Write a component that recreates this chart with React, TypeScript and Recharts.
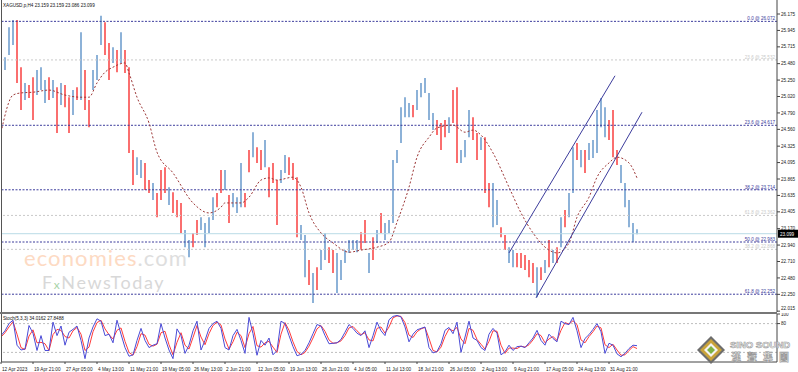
import React from "react";
import { Bar, Cell, ComposedChart, Line, ReferenceLine, XAxis, YAxis } from "recharts";

// XAGUSD H4, one sample every ~4 chart bars (index i)
const highs = [
  25.57, 25.57, 25.99, 26.09, 26.09, 25.43, 25.21, 25.18, 25.29, 25.39,
  25.43, 25.25, 25.29, 25.25, 25.15, 25.21, 25.18, 25.01, 25.11, 25.15,
  25.92, 25.39, 24.97, 25.39, 25.6, 26.15, 26.06, 25.77, 25.71, 25.67,
  25.92, 25.67, 25.43, 24.27, 24.17, 24.13, 24.09, 23.85, 23.81, 23.67,
  23.99, 24.03, 23.75, 23.68, 23.57, 23.53, 23.15, 23.01, 23.11, 23.29,
  23.33, 23.25, 23.33, 23.61, 23.67, 23.99, 23.99, 23.64, 23.67, 23.61,
  24.09, 23.67, 24.27, 24.52, 24.31, 24.27, 24.41, 24.03, 24.09, 23.85,
  23.99, 24.2, 24.17, 24.09, 23.89, 23.22, 23.08, 22.73, 22.55, 22.63,
  22.87, 23.11, 22.91, 22.87, 22.83, 22.73, 22.87, 23.01, 23.01, 23.01,
  23.12, 23.29, 22.83, 23.05, 23.15, 23.39, 23.25, 23.29, 24.13, 24.27,
  24.87, 25.01, 24.93, 24.9, 25.11, 25.21, 25.28, 25.07, 24.79, 24.69,
  24.65, 24.69, 24.73, 25.11, 25.15, 24.27, 24.41, 24.83, 24.73, 24.51,
  24.45, 24.45, 23.81, 23.81, 23.57, 23.19, 23.08, 22.91, 22.87, 22.83,
  22.83, 22.8, 22.73, 22.69, 22.63, 22.63, 22.73, 23.01, 22.87, 22.91,
  23.33, 23.43, 23.67, 24.31, 24.37, 24.27, 24.27, 24.37, 24.41, 24.83,
  25.0, 24.87, 24.69, 24.83, 24.27, 24.06, 23.81, 23.57, 23.25, 23.16,
];
const lows = [
  25.32, 25.39, 25.6, 25.74, 25.21, 24.83, 24.97, 25.0, 24.69, 25.04,
  25.11, 24.93, 24.97, 25.0, 24.51, 24.9, 24.87, 24.51, 24.76, 24.97,
  24.97, 24.83, 24.59, 25.11, 25.25, 25.74, 25.6, 25.25, 25.49, 25.36,
  25.49, 25.35, 24.23, 23.78, 23.92, 23.88, 23.71, 23.67, 23.57, 23.33,
  23.57, 23.67, 23.5, 23.39, 23.33, 23.11, 22.91, 22.77, 22.91, 23.08,
  23.15, 22.91, 23.11, 23.29, 23.47, 23.67, 23.71, 23.25, 23.47, 23.39,
  23.47, 23.47, 23.96, 24.17, 24.09, 23.99, 24.03, 23.61, 23.81, 23.22,
  23.81, 23.95, 23.92, 23.85, 23.05, 23.01, 22.49, 22.38, 22.13, 22.31,
  22.59, 22.73, 22.69, 22.55, 22.27, 22.45, 22.69, 22.83, 22.87, 22.84,
  22.87, 22.97, 22.55, 22.73, 22.97, 23.11, 23.01, 23.11, 23.25, 24.09,
  24.37, 24.73, 24.73, 24.73, 24.83, 25.01, 25.07, 24.69, 24.55, 24.48,
  24.27, 24.45, 24.51, 24.65, 24.09, 24.09, 24.17, 24.45, 24.41, 24.13,
  24.27, 23.67, 23.47, 23.19, 23.22, 23.05, 22.87, 22.69, 22.63, 22.63,
  22.62, 22.59, 22.49, 22.41, 22.21, 22.45, 22.55, 22.63, 22.69, 22.69,
  22.91, 23.19, 23.33, 23.67, 24.13, 24.03, 23.95, 24.13, 24.16, 24.23,
  24.59, 24.45, 24.41, 24.17, 24.06, 23.81, 23.47, 23.19, 22.98, 23.09,
];
// u = bull bar, d = bear bar
const dirs =
  "uuuuddudduuudud" +
  "uddudud" +
  "duuuddudud" +
  "dduudduddduddduudduuuuddudu" +
  "uuddudduddduuddduudu" +
  "duudduuuuuuddud" +
  "uduuuuuuuduuuuudddudduuu" +
  "ddudduudduuddddd" +
  "ududududuududu" +
  "uuuuddduuuuuddddddud";

const maIdx = [0, 3, 5, 8, 12, 16, 20, 22, 24, 26, 28, 31, 32, 34, 37, 39, 43, 48, 52, 55, 56, 60, 62, 65, 67, 69, 73, 75, 77, 80, 83, 87, 90, 94, 97, 99, 102, 104, 107, 109, 113, 116, 118, 120, 123, 127, 130, 133, 137, 139, 142, 144, 147, 149, 152, 154, 157, 159];
const maVal = [24.52, 25.04, 25.07, 25.08, 25.11, 25.04, 25.01, 25.01, 25.21, 25.36, 25.43, 25.49, 25.35, 25.01, 24.65, 24.24, 23.95, 23.53, 23.39, 23.47, 23.53, 23.53, 23.61, 23.85, 23.88, 23.85, 23.89, 23.75, 23.39, 23.11, 22.97, 22.84, 22.87, 22.91, 22.98, 23.26, 23.75, 24.17, 24.45, 24.58, 24.62, 24.52, 24.55, 24.48, 24.23, 23.75, 23.39, 23.11, 22.87, 22.83, 22.97, 23.33, 23.61, 23.89, 24.09, 24.17, 24.09, 23.88];

const stochK = [
  55, 65, 80, 87, 35, 25, 27, 76, 60, 24, 55, 24, 24, 83, 55, 75, 35, 62, 68, 75,
  45, 7, 50, 73, 90, 85, 55, 58, 40, 87, 58, 30, 12, 15, 45, 70, 45, 30, 35, 38,
  80, 50, 25, 7, 69, 55, 18, 35, 65, 85, 25, 45, 70, 80, 85, 70, 30, 25, 55, 68,
  45, 18, 93, 59, 14, 45, 35, 50, 15, 24, 85, 80, 55, 32, 13, 16, 24, 40, 59, 78,
  75, 55, 38, 39, 40, 47, 62, 78, 70, 60, 55, 65, 30, 55, 83, 65, 55, 88, 95, 97,
  94, 73, 42, 58, 67, 70, 73, 30, 19, 22, 38, 66, 72, 59, 83, 20, 52, 85, 50, 45,
  30, 24, 58, 70, 60, 15, 21, 35, 24, 32, 33, 30, 40, 50, 66, 45, 35, 58, 49, 42,
  85, 80, 78, 93, 65, 30, 49, 57, 68, 80, 63, 18, 39, 35, 17, 11, 18, 28, 35, 34,
];
const stochD = [
  52, 61, 73, 84, 58, 30, 26, 54, 67, 40, 41, 38, 24, 57, 68, 66, 53, 50, 65, 72,
  58, 24, 31, 63, 82, 87, 69, 57, 48, 66, 71, 43, 20, 14, 32, 59, 56, 37, 33, 37,
  61, 64, 36, 15, 41, 61, 35, 27, 51, 76, 52, 36, 59, 76, 83, 77, 48, 27, 42, 62,
  55, 30, 59, 74, 34, 31, 40, 43, 31, 20, 58, 82, 66, 42, 22, 15, 20, 33, 50, 69,
  76, 64, 46, 39, 40, 44, 55, 71, 74, 65, 57, 61, 46, 44, 70, 73, 60, 73, 92, 96,
  95, 82, 56, 51, 63, 69, 72, 49, 24, 21, 31, 53, 69, 65, 72, 48, 38, 70, 66, 47,
  37, 27, 43, 65, 64, 35, 18, 29, 29, 28, 33, 31, 36, 46, 59, 55, 40, 48, 53, 45,
  66, 82, 79, 86, 78, 46, 40, 53, 63, 75, 71, 36, 30, 37, 25, 14, 15, 24, 32, 28,
];

const priceTicks = [26.175, 25.945, 25.715, 25.48, 25.25, 25.02, 24.79, 24.56, 24.325, 24.095, 23.865, 23.635, 23.405, 23.17, 22.94, 22.71, 22.48, 22.25, 22.015];
const timeTickIdx = [0, 8, 16, 24, 32, 40, 48, 56, 64, 72, 80, 88, 96, 104, 112, 120, 128, 136, 144, 152];
const timeLabels = ["12 Apr 2023", "19 Apr 21:00", "27 Apr 05:00", "4 May 13:00", "11 May 21:00", "19 May 05:00", "26 May 13:00", "2 Jun 21:00", "12 Jun 05:00", "19 Jun 13:00", "26 Jun 21:00", "4 Jul 05:00", "11 Jul 13:00", "18 Jul 21:00", "26 Jul 05:00", "2 Aug 13:00", "9 Aug 21:00", "17 Aug 05:00", "24 Aug 13:00", "31 Aug 21:00"];

// fibonacci retracements: main set and faint older set
const fibMain = [
  { v: 26.072, t: "0.0 @ 26.072" },
  { v: 24.617, t: "23.6 @ 24.617" },
  { v: 23.714, t: "38.2 @ 23.714" },
  { v: 22.983, t: "50.0 @ 22.983" },
  { v: 22.252, t: "61.8 @ 22.252" },
];
const fibFaint = [
  { v: 25.532, t: "23.6 @ 25.532" },
  { v: 23.355, t: "61.8 @ 23.362" },
  { v: 22.88, t: "38.2 @ 22.868" },
];
// channel lines [i, price]
const channelUpper = [[127, 22.83], [153.5, 25.31]];
const channelLower = [[133.75, 22.2], [160.25, 24.8]];
const lastPrice = 23.099;

const UP = "#8db2d8";
const DOWN = "#fa6f6f";
const NAVY = "#3c3c9c";
const FONT = "'Liberation Sans', Arial, sans-serif";

function FibLabel({ viewBox, text, color }: any) {
  if (!viewBox) return null;
  return (
    <text x={viewBox.x + viewBox.width - 2} y={viewBox.y - 1} textAnchor="end" fontSize={4.6} fill={color} fontFamily={FONT}>
      {text}
    </text>
  );
}

function PriceTag({ viewBox }: any) {
  if (!viewBox) return null;
  const x = viewBox.x + viewBox.width + 1;
  return (
    <g>
      <rect x={x} y={viewBox.y - 4} width={20} height={8} fill="#000" />
      <text x={x + 2} y={viewBox.y + 1.8} fontSize={4.6} fill="#fff" fontFamily={FONT}>
        {lastPrice.toFixed(3)}
      </text>
    </g>
  );
}

function PriceTick({ x, y, payload }: any) {
  return (
    <text x={x} y={Math.min(y, 308.5) + 1.6} fontSize={4.6} fill="#222" fontFamily={FONT}>
      {Number(payload.value).toFixed(3)}
    </text>
  );
}

function TimeTick({ x, y, payload }: any) {
  const k = timeTickIdx.indexOf(payload.value);
  return (
    <text x={x + 1} y={y + 5} fontSize={4.7} fill="#222" textAnchor="start" fontFamily={FONT}>
      {timeLabels[k]}
    </text>
  );
}

export default function App() {
  const rows: any[] = highs.map((h, i) => ({
    i,
    range: [lows[i], h],
    up: dirs[i] === "u",
    ma: null,
    k: stochK[i],
    d: stochD[i],
  }));
  maIdx.forEach((ix, n) => {
    rows[ix].ma = maVal[n];
  });

  const axisTick = { fontSize: 4.6, fill: "#222", fontFamily: FONT };

  return (
    <div style={{ position: "absolute", left: 0, top: 0, width: 798, height: 372, background: "#fff", overflow: "hidden", fontFamily: FONT }}>
      {/* watermark */}
      <svg width={798} height={372} style={{ position: "absolute", left: 0, top: 0 }}>
        <text x={24} y={266} fontSize={22} letterSpacing={1.1} fill="#fddac3" fontFamily="Lato, sans-serif">
          economies<tspan fill="#dedede">.com</tspan>
        </text>
        <text x={42} y={289} fontSize={18} letterSpacing={1.6} fill="#d8d8d8" fontFamily="Lato, sans-serif">
          F<tspan fill="#a8d3a8" fontSize={12}>x</tspan>NewsToday
        </text>
      </svg>

      <div style={{ position: "absolute", left: 0, top: 0 }}>
        <ComposedChart width={798} height={312} data={rows} margin={{ top: 0, right: 0, bottom: 0, left: 1 }}>
          <XAxis dataKey="i" type="number" domain={[0, 194]} hide allowDataOverflow />
          <YAxis
            orientation="right"
            width={21}
            type="number"
            domain={[22.003, 26.371]}
            allowDataOverflow
            ticks={priceTicks}
            interval={0}
            tick={<PriceTick />}
            tickSize={3}
            tickMargin={1}
            stroke="#444"
          />
          {fibFaint.map((f) => (
            <ReferenceLine key={f.t} y={f.v} stroke="#c9c9c9" strokeDasharray="2 2" label={<FibLabel text={f.t} color="#c9c9c9" />} />
          ))}
          {fibMain.map((f) => (
            <ReferenceLine key={f.t} y={f.v} stroke={NAVY} strokeDasharray="2 1.5" label={<FibLabel text={f.t} color={NAVY} />} />
          ))}
          <ReferenceLine y={lastPrice} stroke="#b9dbe6" label={<PriceTag />} />
          <Bar dataKey="range" barSize={2} isAnimationActive={false}>
            {rows.map((r) => (
              <Cell key={r.i} fill={r.up ? UP : DOWN} />
            ))}
          </Bar>
          <Line dataKey="ma" type="monotone" stroke="#9c3636" strokeWidth={1} strokeDasharray="2 2" dot={false} connectNulls isAnimationActive={false} />
          <ReferenceLine segment={channelUpper.map(([x, y]) => ({ x, y }))} stroke={NAVY} ifOverflow="visible" />
          <ReferenceLine segment={channelLower.map(([x, y]) => ({ x, y }))} stroke={NAVY} ifOverflow="visible" />
        </ComposedChart>
      </div>

      <div style={{ position: "absolute", left: 0, top: 313 }}>
        <ComposedChart width={798} height={59} data={rows} margin={{ top: 1, right: 0, bottom: 0, left: 1 }}>
          <XAxis
            dataKey="i"
            type="number"
            domain={[0, 194]}
            allowDataOverflow
            ticks={timeTickIdx}
            interval={0}
            height={10}
            tick={<TimeTick />}
            tickSize={2}
            stroke="#444"
          />
          <YAxis
            orientation="right"
            width={21}
            type="number"
            domain={[0, 100]}
            ticks={[100, 80]}
            interval={0}
            tick={axisTick}
            tickSize={3}
            tickMargin={1}
            stroke="#444"
          />
          <ReferenceLine y={80} stroke="#bdbdbd" strokeDasharray="2 2" />
          <ReferenceLine y={20} stroke="#bdbdbd" strokeDasharray="2 2" />
          <Line dataKey="d" type="linear" stroke="#ff3b3b" strokeWidth={1} dot={false} isAnimationActive={false} />
          <Line dataKey="k" type="linear" stroke="#4b4bd6" strokeWidth={1} dot={false} isAnimationActive={false} />
        </ComposedChart>
      </div>

      {/* frame, titles, logo */}
      <svg width={798} height={372} style={{ position: "absolute", left: 0, top: 0, pointerEvents: "none" }}>
        <line x1={1.5} y1={0} x2={1.5} y2={362} stroke="#555" />
        <line x1={0} y1={313} x2={777} y2={313} stroke="#777" strokeWidth={2} />
        <text x={3} y={7} fontSize={4.6} fill="#111" fontFamily={FONT}>
          XAGUSD,p,H4  23.159 23.159 23.086 23.099
        </text>
        <text x={3} y={320} fontSize={4.6} fill="#111" fontFamily={FONT}>
          Stoch(5,3,3) 34.0162 27.8488
        </text>
        <g transform="translate(711 350)">
          <polygon points="0,-14 14,0 0,14 -14,0" fill="#6d6d6d" />
          <polygon points="0,-11 11,0 0,11 -11,0" fill="#c9a33a" />
          <polygon points="0,-7 7,0 0,7 -7,0" fill="#f4f4f4" />
          <polygon points="0,-4 4,0 0,4 -4,0" fill="#7cb342" />
        </g>
        <text x={730} y={348} fontSize={9.5} fontWeight="bold" fill="#fff" stroke="#9a9a9a" strokeWidth={0.6} fontFamily={FONT}>
          SINO SOUND
        </text>
        <text x={731} y={361} fontSize={10} fontWeight="bold" fill="#fff" stroke="#9a9a9a" strokeWidth={0.6} letterSpacing={6} fontFamily="'Noto Sans CJK TC', sans-serif">
          漢聲集團
        </text>
      </svg>
    </div>
  );
}
